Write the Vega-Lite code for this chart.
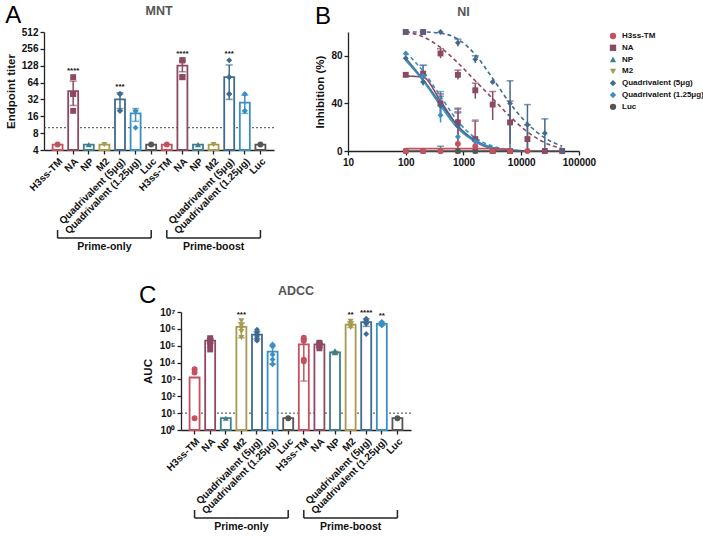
{
"$schema": "https://vega.github.io/schema/vega-lite/v6.json",
"padding": {"left": 5, "top": 3, "right": 0, "bottom": 0},
"config": {
 "font": "Liberation Sans",
 "view": {"stroke": null},
 "axis": {"labelFont": "Liberation Sans", "titleFont": "Liberation Sans", "labelFontWeight": "bold", "labelFontSize": 10, "labelColor": "#111", "titleFontSize": 11.5, "titleFontWeight": "bold", "titleColor": "#111", "domainColor": "#222", "tickColor": "#222", "domainWidth": 1.3, "tickWidth": 1.3, "tickSize": 4, "grid": false, "labelPadding": 2, "labelFlush": false},
 "title": {"font": "Liberation Sans", "fontSize": 12.5, "fontWeight": "bold", "color": "#555", "offset": 10, "anchor": "middle"},
 "legend": {"labelFont": "Liberation Sans", "labelFontWeight": "bold", "labelFontSize": 8, "labelColor": "#111", "symbolSize": 40, "rowPadding": 3.8, "padding": 0, "offset": 30, "labelOffset": 5, "labelLimit": 200}
},
"datasets": {
 "brk": [
  {"k1":"po:H3ss-TM","k2":"po:Luc","km":"po:M2","lab":"Prime-only"},
  {"k1":"pb:H3ss-TM","k2":"pb:Luc","km":"pb:M2","lab":"Prime-boost"}
 ],
 "A_bars": [
  {"k":"po:H3ss-TM","a":"H3ss-TM","m":5},
  {"k":"po:NA","a":"NA","m":45,"lo":25,"hi":68,"s":"****","sy":80},
  {"k":"po:NP","a":"NP","m":5},
  {"k":"po:M2","a":"M2","m":5},
  {"k":"po:Quadrivalent (5μg)","a":"Quadrivalent (5μg)","m":32,"lo":22,"hi":42,"s":"***","sy":42},
  {"k":"po:Quadrivalent (1.25μg)","a":"Quadrivalent (1.25μg)","m":18,"lo":13,"hi":22},
  {"k":"po:Luc","a":"Luc","m":5},
  {"k":"pb:H3ss-TM","a":"H3ss-TM","m":5},
  {"k":"pb:NA","a":"NA","m":128,"lo":100,"hi":156,"s":"****","sy":160},
  {"k":"pb:NP","a":"NP","m":5},
  {"k":"pb:M2","a":"M2","m":5},
  {"k":"pb:Quadrivalent (5μg)","a":"Quadrivalent (5μg)","m":80,"lo":32,"hi":132,"s":"***","sy":160},
  {"k":"pb:Quadrivalent (1.25μg)","a":"Quadrivalent (1.25μg)","m":28,"lo":18,"hi":38},
  {"k":"pb:Luc","a":"Luc","m":5}
 ],
 "A_pts": [
  {"k":"po:H3ss-TM","a":"H3ss-TM","v":5},
  {"k":"po:NA","a":"NA","v":80},{"k":"po:NA","a":"NA","v":40},{"k":"po:NA","a":"NA","v":40},{"k":"po:NA","a":"NA","v":20},
  {"k":"po:NP","a":"NP","v":5},
  {"k":"po:M2","a":"M2","v":5},
  {"k":"po:Quadrivalent (5μg)","a":"Quadrivalent (5μg)","v":40},{"k":"po:Quadrivalent (5μg)","a":"Quadrivalent (5μg)","v":40},{"k":"po:Quadrivalent (5μg)","a":"Quadrivalent (5μg)","v":20},{"k":"po:Quadrivalent (5μg)","a":"Quadrivalent (5μg)","v":20},
  {"k":"po:Quadrivalent (1.25μg)","a":"Quadrivalent (1.25μg)","v":20},{"k":"po:Quadrivalent (1.25μg)","a":"Quadrivalent (1.25μg)","v":20},{"k":"po:Quadrivalent (1.25μg)","a":"Quadrivalent (1.25μg)","v":10},
  {"k":"po:Luc","a":"Luc","v":5},
  {"k":"pb:H3ss-TM","a":"H3ss-TM","v":5},
  {"k":"pb:NA","a":"NA","v":160},{"k":"pb:NA","a":"NA","v":160},{"k":"pb:NA","a":"NA","v":80},{"k":"pb:NA","a":"NA","v":80},
  {"k":"pb:NP","a":"NP","v":5},
  {"k":"pb:M2","a":"M2","v":5},
  {"k":"pb:Quadrivalent (5μg)","a":"Quadrivalent (5μg)","v":160},{"k":"pb:Quadrivalent (5μg)","a":"Quadrivalent (5μg)","v":80},{"k":"pb:Quadrivalent (5μg)","a":"Quadrivalent (5μg)","v":80},{"k":"pb:Quadrivalent (5μg)","a":"Quadrivalent (5μg)","v":40},{"k":"pb:Quadrivalent (5μg)","a":"Quadrivalent (5μg)","v":40},
  {"k":"pb:Quadrivalent (1.25μg)","a":"Quadrivalent (1.25μg)","v":40},{"k":"pb:Quadrivalent (1.25μg)","a":"Quadrivalent (1.25μg)","v":20},{"k":"pb:Quadrivalent (1.25μg)","a":"Quadrivalent (1.25μg)","v":20},
  {"k":"pb:Luc","a":"Luc","v":5}
 ],
 "C_bars": [
  {"k":"po:H3ss-TM","a":"H3ss-TM","m":1300},
  {"k":"po:NA","a":"NA","m":200000,"lo":140000,"hi":260000},
  {"k":"po:NP","a":"NP","m":5},
  {"k":"po:M2","a":"M2","m":1300000,"lo":300000,"hi":2300000,"s":"***","sy":3000000},
  {"k":"po:Quadrivalent (5μg)","a":"Quadrivalent (5μg)","m":450000,"lo":250000,"hi":700000},
  {"k":"po:Quadrivalent (1.25μg)","a":"Quadrivalent (1.25μg)","m":45000,"lo":8000,"hi":100000},
  {"k":"po:Luc","a":"Luc","m":5},
  {"k":"pb:H3ss-TM","a":"H3ss-TM","m":120000,"lo":800,"hi":240000},
  {"k":"pb:NA","a":"NA","m":120000,"lo":80000,"hi":150000},
  {"k":"pb:NP","a":"NP","m":40000,"lo":35000,"hi":46000},
  {"k":"pb:M2","a":"M2","m":1800000,"lo":1200000,"hi":2600000,"s":"**","sy":2800000},
  {"k":"pb:Quadrivalent (5μg)","a":"Quadrivalent (5μg)","m":2500000,"lo":1400000,"hi":3800000,"s":"****","sy":4000000},
  {"k":"pb:Quadrivalent (1.25μg)","a":"Quadrivalent (1.25μg)","m":2000000,"lo":1600000,"hi":2400000,"s":"**","sy":2600000},
  {"k":"pb:Luc","a":"Luc","m":5}
 ],
 "C_pts": [
  {"k":"po:H3ss-TM","a":"H3ss-TM","v":4000},{"k":"po:H3ss-TM","a":"H3ss-TM","v":2600},{"k":"po:H3ss-TM","a":"H3ss-TM","v":5},
  {"k":"po:NA","a":"NA","v":280000},{"k":"po:NA","a":"NA","v":220000},{"k":"po:NA","a":"NA","v":170000},{"k":"po:NA","a":"NA","v":110000},{"k":"po:NA","a":"NA","v":60000},
  {"k":"po:NP","a":"NP","v":5},
  {"k":"po:M2","a":"M2","v":3000000},{"k":"po:M2","a":"M2","v":1600000},{"k":"po:M2","a":"M2","v":1100000},{"k":"po:M2","a":"M2","v":700000},{"k":"po:M2","a":"M2","v":300000},
  {"k":"po:Quadrivalent (5μg)","a":"Quadrivalent (5μg)","v":900000},{"k":"po:Quadrivalent (5μg)","a":"Quadrivalent (5μg)","v":650000},{"k":"po:Quadrivalent (5μg)","a":"Quadrivalent (5μg)","v":500000},{"k":"po:Quadrivalent (5μg)","a":"Quadrivalent (5μg)","v":380000},{"k":"po:Quadrivalent (5μg)","a":"Quadrivalent (5μg)","v":280000},{"k":"po:Quadrivalent (5μg)","a":"Quadrivalent (5μg)","v":200000},
  {"k":"po:Quadrivalent (1.25μg)","a":"Quadrivalent (1.25μg)","v":120000},{"k":"po:Quadrivalent (1.25μg)","a":"Quadrivalent (1.25μg)","v":90000},{"k":"po:Quadrivalent (1.25μg)","a":"Quadrivalent (1.25μg)","v":30000},{"k":"po:Quadrivalent (1.25μg)","a":"Quadrivalent (1.25μg)","v":15000},{"k":"po:Quadrivalent (1.25μg)","a":"Quadrivalent (1.25μg)","v":8000},
  {"k":"po:Luc","a":"Luc","v":5},
  {"k":"pb:H3ss-TM","a":"H3ss-TM","v":300000},{"k":"pb:H3ss-TM","a":"H3ss-TM","v":200000},{"k":"pb:H3ss-TM","a":"H3ss-TM","v":15000},{"k":"pb:H3ss-TM","a":"H3ss-TM","v":12000},
  {"k":"pb:NA","a":"NA","v":150000},{"k":"pb:NA","a":"NA","v":130000},{"k":"pb:NA","a":"NA","v":100000},{"k":"pb:NA","a":"NA","v":70000},
  {"k":"pb:NP","a":"NP","v":50000},{"k":"pb:NP","a":"NP","v":43000},{"k":"pb:NP","a":"NP","v":38000},
  {"k":"pb:M2","a":"M2","v":2800000},{"k":"pb:M2","a":"M2","v":2000000},{"k":"pb:M2","a":"M2","v":1500000},{"k":"pb:M2","a":"M2","v":1200000},
  {"k":"pb:Quadrivalent (5μg)","a":"Quadrivalent (5μg)","v":4000000},{"k":"pb:Quadrivalent (5μg)","a":"Quadrivalent (5μg)","v":3000000},{"k":"pb:Quadrivalent (5μg)","a":"Quadrivalent (5μg)","v":2400000},{"k":"pb:Quadrivalent (5μg)","a":"Quadrivalent (5μg)","v":2000000},{"k":"pb:Quadrivalent (5μg)","a":"Quadrivalent (5μg)","v":500000},
  {"k":"pb:Quadrivalent (1.25μg)","a":"Quadrivalent (1.25μg)","v":2600000},{"k":"pb:Quadrivalent (1.25μg)","a":"Quadrivalent (1.25μg)","v":2200000},{"k":"pb:Quadrivalent (1.25μg)","a":"Quadrivalent (1.25μg)","v":1800000},{"k":"pb:Quadrivalent (1.25μg)","a":"Quadrivalent (1.25μg)","v":1600000},
  {"k":"pb:Luc","a":"Luc","v":5}
 ],
 "B_pts": [
  {"s":"NA","d":100,"v":100},{"s":"NA","d":200,"v":100},{"s":"NA","d":400,"v":82,"lo":78,"hi":86},{"s":"NA","d":800,"v":64,"lo":60,"hi":68},{"s":"NA","d":1600,"v":51,"lo":44,"hi":57},{"s":"NA","d":3200,"v":39,"lo":26,"hi":50},{"s":"NA","d":6400,"v":24,"lo":6,"hi":42},{"s":"NA","d":12800,"v":10,"lo":0,"hi":22},{"s":"NA","d":25600,"v":0},{"s":"NA","d":51200,"v":0},
  {"s":"NA","d":100,"v":64},{"s":"NA","d":200,"v":65,"lo":58,"hi":72},{"s":"NA","d":400,"v":40,"lo":30,"hi":48},{"s":"NA","d":800,"v":24,"lo":14,"hi":36},{"s":"NA","d":1600,"v":10},{"s":"NA","d":3200,"v":0},{"s":"NA","d":6400,"v":0},
  {"s":"Quadrivalent (5μg)","d":100,"v":100},{"s":"Quadrivalent (5μg)","d":200,"v":100},{"s":"Quadrivalent (5μg)","d":400,"v":100},{"s":"Quadrivalent (5μg)","d":800,"v":91,"lo":88,"hi":94},{"s":"Quadrivalent (5μg)","d":1600,"v":77,"lo":74,"hi":80},{"s":"Quadrivalent (5μg)","d":3200,"v":58},{"s":"Quadrivalent (5μg)","d":6400,"v":40,"lo":0,"hi":59},{"s":"Quadrivalent (5μg)","d":12800,"v":22,"lo":0,"hi":39},{"s":"Quadrivalent (5μg)","d":25600,"v":15,"lo":0,"hi":27},{"s":"Quadrivalent (5μg)","d":51200,"v":0},
  {"s":"Quadrivalent (5μg)","d":100,"v":78},{"s":"Quadrivalent (5μg)","d":200,"v":58},{"s":"Quadrivalent (5μg)","d":400,"v":38,"lo":30,"hi":46},{"s":"Quadrivalent (5μg)","d":800,"v":21,"lo":10,"hi":32},{"s":"Quadrivalent (5μg)","d":1600,"v":9},{"s":"Quadrivalent (5μg)","d":3200,"v":0},
  {"s":"Quadrivalent (1.25μg)","d":100,"v":82},{"s":"Quadrivalent (1.25μg)","d":200,"v":63,"lo":55,"hi":72},{"s":"Quadrivalent (1.25μg)","d":400,"v":30,"lo":24,"hi":50},{"s":"Quadrivalent (1.25μg)","d":800,"v":12,"lo":3,"hi":35},{"s":"Quadrivalent (1.25μg)","d":1600,"v":8,"lo":0,"hi":25},{"s":"Quadrivalent (1.25μg)","d":3200,"v":0},{"s":"Quadrivalent (1.25μg)","d":6400,"v":0},
  {"s":"NP","d":100,"v":0},{"s":"NP","d":200,"v":0},{"s":"NP","d":400,"v":1,"lo":0,"hi":4},{"s":"NP","d":800,"v":0},{"s":"NP","d":1600,"v":0},{"s":"NP","d":3200,"v":0},{"s":"NP","d":6400,"v":0},
  {"s":"M2","d":100,"v":0},{"s":"M2","d":200,"v":0},{"s":"M2","d":400,"v":0},{"s":"M2","d":800,"v":0},{"s":"M2","d":1600,"v":0},{"s":"M2","d":3200,"v":0},{"s":"M2","d":6400,"v":0},
  {"s":"Luc","d":100,"v":0},{"s":"Luc","d":200,"v":0},{"s":"Luc","d":400,"v":0},{"s":"Luc","d":800,"v":0},{"s":"Luc","d":1600,"v":0},{"s":"Luc","d":3200,"v":0},{"s":"Luc","d":6400,"v":0},
  {"s":"H3ss-TM","d":100,"v":0},{"s":"H3ss-TM","d":200,"v":0},{"s":"H3ss-TM","d":400,"v":0},{"s":"H3ss-TM","d":800,"v":6,"lo":0,"hi":33},{"s":"H3ss-TM","d":1600,"v":4,"lo":0,"hi":26},{"s":"H3ss-TM","d":3200,"v":0},{"s":"H3ss-TM","d":6400,"v":0},{"s":"H3ss-TM","d":12800,"v":0}
 ],
 "B_fit": [
  {"s":"NA","g":"pb","d":100,"v":100},{"s":"NA","g":"pb","d":200,"v":96},{"s":"NA","g":"pb","d":400,"v":87},{"s":"NA","g":"pb","d":800,"v":74},{"s":"NA","g":"pb","d":1600,"v":59},{"s":"NA","g":"pb","d":3200,"v":44},{"s":"NA","g":"pb","d":6400,"v":29},{"s":"NA","g":"pb","d":12800,"v":16},{"s":"NA","g":"pb","d":25600,"v":7},{"s":"NA","g":"pb","d":51200,"v":2},
  {"s":"Quadrivalent (5μg)","g":"pb","d":100,"v":100},{"s":"Quadrivalent (5μg)","g":"pb","d":200,"v":100},{"s":"Quadrivalent (5μg)","g":"pb","d":400,"v":99},{"s":"Quadrivalent (5μg)","g":"pb","d":800,"v":94},{"s":"Quadrivalent (5μg)","g":"pb","d":1600,"v":81},{"s":"Quadrivalent (5μg)","g":"pb","d":3200,"v":61},{"s":"Quadrivalent (5μg)","g":"pb","d":6400,"v":40},{"s":"Quadrivalent (5μg)","g":"pb","d":12800,"v":23},{"s":"Quadrivalent (5μg)","g":"pb","d":25600,"v":11},{"s":"Quadrivalent (5μg)","g":"pb","d":51200,"v":4},
  {"s":"Quadrivalent (1.25μg)","g":"pb","d":100,"v":83},{"s":"Quadrivalent (1.25μg)","g":"pb","d":200,"v":67},{"s":"Quadrivalent (1.25μg)","g":"pb","d":400,"v":46},{"s":"Quadrivalent (1.25μg)","g":"pb","d":800,"v":25},{"s":"Quadrivalent (1.25μg)","g":"pb","d":1600,"v":11},{"s":"Quadrivalent (1.25μg)","g":"pb","d":3200,"v":4},{"s":"Quadrivalent (1.25μg)","g":"pb","d":6400,"v":1},{"s":"Quadrivalent (1.25μg)","g":"pb","d":12800,"v":0},
  {"s":"NA","g":"po","d":100,"v":63},{"s":"NA","g":"po","d":200,"v":62},{"s":"NA","g":"po","d":400,"v":42},{"s":"NA","g":"po","d":800,"v":21},{"s":"NA","g":"po","d":1600,"v":8},{"s":"NA","g":"po","d":3200,"v":2},{"s":"NA","g":"po","d":6400,"v":0.5},{"s":"NA","g":"po","d":12800,"v":0},
  {"s":"Quadrivalent (5μg)","g":"po","d":100,"v":78},{"s":"Quadrivalent (5μg)","g":"po","d":200,"v":60},{"s":"Quadrivalent (5μg)","g":"po","d":400,"v":40},{"s":"Quadrivalent (5μg)","g":"po","d":800,"v":21},{"s":"Quadrivalent (5μg)","g":"po","d":1600,"v":9},{"s":"Quadrivalent (5μg)","g":"po","d":3200,"v":3},{"s":"Quadrivalent (5μg)","g":"po","d":6400,"v":1},{"s":"Quadrivalent (5μg)","g":"po","d":12800,"v":0},
  {"s":"Quadrivalent (1.25μg)","g":"po","d":100,"v":76},{"s":"Quadrivalent (1.25μg)","g":"po","d":200,"v":59},{"s":"Quadrivalent (1.25μg)","g":"po","d":400,"v":38},{"s":"Quadrivalent (1.25μg)","g":"po","d":800,"v":19},{"s":"Quadrivalent (1.25μg)","g":"po","d":1600,"v":8},{"s":"Quadrivalent (1.25μg)","g":"po","d":3200,"v":2.5},{"s":"Quadrivalent (1.25μg)","g":"po","d":6400,"v":0.7},{"s":"Quadrivalent (1.25μg)","g":"po","d":12800,"v":0},
  {"s":"H3ss-TM","g":"po","d":100,"v":2},{"s":"H3ss-TM","g":"po","d":400,"v":2},{"s":"H3ss-TM","g":"po","d":1600,"v":2},{"s":"H3ss-TM","g":"po","d":6400,"v":1.5},
  {"s":"Luc","g":"po","d":100,"v":0},{"s":"Luc","g":"po","d":51200,"v":0}
 ]
},
"vconcat": [
 {"hconcat": [
  {"title": {"text": "A", "anchor": "start", "frame": "bounds", "fontSize": 24, "fontWeight": "normal", "color": "#000", "offset": 0, "dy": 23},
   "bounds": "flush", "spacing": 80,
   "resolve": {"scale": {"color": "independent", "shape": "independent", "stroke": "independent"}},
   "vconcat": [
   {"title": {"text": "MNT", "anchor": "middle", "frame": "group"}, "width": 230, "height": 118,
    "layer": [
      {"data": {"values": [{"t": 10}]}, "mark": {"type": "rule", "strokeDash": [2, 2], "color": "#444", "strokeWidth": 1}, "encoding": {"y": {"field": "t", "type": "quantitative"}}},
      {"data": {"name": "A_bars"}, "mark": {"type": "bar", "fill": "white", "strokeWidth": 1.8},
       "encoding": {
        "x": {"field": "k", "type": "nominal", "sort": null, "scale": {"domain": ["po:H3ss-TM","po:NA","po:NP","po:M2","po:Quadrivalent (5μg)","po:Quadrivalent (1.25μg)","po:Luc","pb:H3ss-TM","pb:NA","pb:NP","pb:M2","pb:Quadrivalent (5μg)","pb:Quadrivalent (1.25μg)","pb:Luc"], "paddingInner": 0.36, "paddingOuter": 0.55}, "axis": {"labelAngle": -45, "labelExpr": "split(datum.label, ':')[1]", "title": null}},
        "y": {"field": "m", "type": "quantitative", "scale": {"type": "log", "base": 2, "domain": [4, 512]}, "axis": {"values": [4, 8, 16, 32, 64, 128, 256, 512], "format": "d", "title": "Endpoint titer", "titlePadding": 5}},
        "y2": {"datum": 4},
        "stroke": {"field": "a", "type": "nominal", "scale": {"domain": ["H3ss-TM","NA","NP","M2","Quadrivalent (5μg)","Quadrivalent (1.25μg)","Luc"], "range": ["#c4515f","#8c4962","#3e7f89","#a59a50","#3f6b8f","#3b8fc2","#555555"]}, "legend": null}}},
      {"data": {"name": "A_pts"}, "mark": {"type": "point", "filled": true, "size": 35, "opacity": 1},
       "encoding": {
        "x": {"field": "k", "type": "nominal", "sort": null},
        "y": {"field": "v", "type": "quantitative"},
        "color": {"field": "a", "type": "nominal", "scale": {"domain": ["H3ss-TM","NA","NP","M2","Quadrivalent (5μg)","Quadrivalent (1.25μg)","Luc"], "range": ["#c4515f","#8c4962","#3e7f89","#a59a50","#3f6b8f","#3b8fc2","#555555"]}, "legend": null},
        "shape": {"field": "a", "type": "nominal", "scale": {"domain": ["H3ss-TM","NA","NP","M2","Quadrivalent (5μg)","Quadrivalent (1.25μg)","Luc"], "range": ["circle","square","triangle-up","triangle-down","diamond","diamond","circle"]}, "legend": null}}},
      {"data": {"name": "A_bars"}, "transform": [{"filter": "isValid(datum.lo)"}], "mark": {"type": "rule", "strokeWidth": 1.5},
       "encoding": {"x": {"field": "k", "type": "nominal", "sort": null}, "y": {"field": "lo", "type": "quantitative"}, "y2": {"field": "hi"}, "color": {"field": "a", "type": "nominal", "legend": null}}},
      {"data": {"name": "A_bars"}, "transform": [{"filter": "isValid(datum.hi)"}], "mark": {"type": "tick", "size": 7, "thickness": 1.5},
       "encoding": {"x": {"field": "k", "type": "nominal", "sort": null}, "y": {"field": "hi", "type": "quantitative"}, "color": {"field": "a", "type": "nominal", "legend": null}}},
      {"data": {"name": "A_bars"}, "transform": [{"filter": "isValid(datum.lo)"}], "mark": {"type": "tick", "size": 7, "thickness": 1.5},
       "encoding": {"x": {"field": "k", "type": "nominal", "sort": null}, "y": {"field": "lo", "type": "quantitative"}, "color": {"field": "a", "type": "nominal", "legend": null}}},
      {"data": {"name": "A_bars"}, "transform": [{"filter": "datum.s"}], "mark": {"type": "text", "baseline": "bottom", "dy": -2, "fontSize": 8, "fontWeight": "bold", "color": "#111"},
       "encoding": {"x": {"field": "k", "type": "nominal", "sort": null}, "y": {"field": "sy", "type": "quantitative"}, "text": {"field": "s"}}}
    ]},
   {"width": 230, "height": 8, "data": {"name": "brk"},
    "layer": [
     {"mark": {"type": "rule", "color": "#222", "strokeWidth": 1.5},
      "encoding": {"x": {"field": "k1", "type": "nominal", "scale": {"domain": ["po:H3ss-TM","po:NA","po:NP","po:M2","po:Quadrivalent (5μg)","po:Quadrivalent (1.25μg)","po:Luc","pb:H3ss-TM","pb:NA","pb:NP","pb:M2","pb:Quadrivalent (5μg)","pb:Quadrivalent (1.25μg)","pb:Luc"], "paddingInner": 0.36, "paddingOuter": 0.55}, "axis": null}, "x2": {"field": "k2"}, "y": {"datum": 0, "type": "quantitative", "scale": {"domain": [0, 1]}, "axis": null}}},
     {"mark": {"type": "rule", "color": "#222", "strokeWidth": 1.5},
      "encoding": {"x": {"field": "k1", "type": "nominal"}, "y": {"datum": 0, "type": "quantitative"}, "y2": {"datum": 1}}},
     {"mark": {"type": "rule", "color": "#222", "strokeWidth": 1.5},
      "encoding": {"x": {"field": "k2", "type": "nominal"}, "y": {"datum": 0, "type": "quantitative"}, "y2": {"datum": 1}}},
     {"mark": {"type": "text", "baseline": "top", "dy": 4, "fontSize": 10.5, "fontWeight": "bold", "color": "#111"},
      "encoding": {"x": {"field": "km", "type": "nominal"}, "y": {"datum": 0, "type": "quantitative"}, "text": {"field": "lab"}}}
    ]}
  ]},
  {"title": {"text": "B", "anchor": "start", "frame": "bounds", "fontSize": 24, "fontWeight": "normal", "color": "#000", "offset": 0, "dy": 23},
   "resolve": {"scale": {"color": "independent", "shape": "independent", "stroke": "independent", "fill": "independent"}},
   "vconcat": [
   {"title": {"text": "NI", "anchor": "middle", "frame": "group"}, "width": 231, "height": 119,
    "layer": [
     {"data": {"name": "B_fit"}, "mark": {"type": "line", "interpolate": "monotone", "strokeWidth": 1.6},
      "encoding": {
       "x": {"field": "d", "type": "quantitative", "scale": {"type": "log", "domain": [10, 100000]}, "axis": {"values": [10, 100, 1000, 10000, 100000], "format": "d", "title": null, "labelFlush": false}},
       "y": {"field": "v", "type": "quantitative", "scale": {"domain": [0, 100]}, "axis": {"values": [0, 20, 40, 60, 80, 100], "title": "Inhibition (%)", "titlePadding": 5, "labelFlush": false}},
       "stroke": {"field": "s", "type": "nominal", "scale": {"domain": ["Luc","Quadrivalent (1.25μg)","Quadrivalent (5μg)","M2","NP","NA","H3ss-TM"], "range": ["#555555","#3b8fc2","#3f6b8f","#a59a50","#3e7f89","#8c4962","#c4515f"]}, "legend": null},
       "strokeDash": {"field": "g", "type": "nominal", "scale": {"domain": ["po", "pb"], "range": [[1, 0], [4, 3]]}, "legend": null}}},
     {"data": {"name": "B_pts"}, "transform": [{"filter": "isValid(datum.lo)"}], "mark": {"type": "rule", "strokeWidth": 1.5},
      "encoding": {"x": {"field": "d", "type": "quantitative"}, "y": {"field": "lo", "type": "quantitative"}, "y2": {"field": "hi"}, "stroke": {"field": "s", "type": "nominal", "legend": null}}},
     {"data": {"name": "B_pts"}, "transform": [{"filter": "isValid(datum.hi)"}], "mark": {"type": "tick", "size": 7, "thickness": 1.5, "orient": "horizontal"},
      "encoding": {"x": {"field": "d", "type": "quantitative"}, "y": {"field": "hi", "type": "quantitative"}, "fill": {"field": "s", "type": "nominal", "scale": {"domain": ["Luc","Quadrivalent (1.25μg)","Quadrivalent (5μg)","M2","NP","NA","H3ss-TM"], "range": ["#555555","#3b8fc2","#3f6b8f","#a59a50","#3e7f89","#8c4962","#c4515f"]}, "legend": null}}},
     {"data": {"name": "B_pts"}, "mark": {"type": "point", "filled": true, "size": 35, "opacity": 1},
      "encoding": {
       "x": {"field": "d", "type": "quantitative"},
       "y": {"field": "v", "type": "quantitative"},
       "color": {"field": "s", "type": "nominal", "scale": {"domain": ["H3ss-TM","NA","NP","M2","Quadrivalent (5μg)","Quadrivalent (1.25μg)","Luc"], "range": ["#c4515f","#8c4962","#3e7f89","#a59a50","#3f6b8f","#3b8fc2","#555555"]}, "legend": {"title": null, "orient": "right", "offset": 30}},
       "shape": {"field": "s", "type": "nominal", "scale": {"domain": ["H3ss-TM","NA","NP","M2","Quadrivalent (5μg)","Quadrivalent (1.25μg)","Luc"], "range": ["circle","square","triangle-up","triangle-down","diamond","diamond","circle"]}, "legend": {"title": null, "orient": "right", "offset": 30}}}}
    ]}
  ]}
 ], "spacing": 39, "resolve": {"scale": {"color": "independent", "shape": "independent", "stroke": "independent", "strokeDash": "independent", "fill": "independent"}}},
 {"hconcat": [
  {"width": 94, "height": 10, "data": {"values": [{"z": 0}]}, "mark": {"type": "point", "opacity": 0}},
  {"title": {"text": "C", "anchor": "start", "frame": "bounds", "fontSize": 24, "fontWeight": "normal", "color": "#000", "offset": 0, "dy": 23, "dx": -4},
   "bounds": "flush", "spacing": 80,
   "resolve": {"scale": {"color": "independent", "shape": "independent", "stroke": "independent"}},
   "vconcat": [
   {"title": {"text": "ADCC", "anchor": "middle", "frame": "group"}, "width": 230, "height": 118,
    "layer": [
      {"data": {"values": [{"t": 10}]}, "mark": {"type": "rule", "strokeDash": [2, 2], "color": "#444", "strokeWidth": 1}, "encoding": {"y": {"field": "t", "type": "quantitative"}}},
      {"data": {"name": "C_bars"}, "mark": {"type": "bar", "fill": "white", "strokeWidth": 1.8},
       "encoding": {
        "x": {"field": "k", "type": "nominal", "sort": null, "scale": {"domain": ["po:H3ss-TM","po:NA","po:NP","po:M2","po:Quadrivalent (5μg)","po:Quadrivalent (1.25μg)","po:Luc","pb:H3ss-TM","pb:NA","pb:NP","pb:M2","pb:Quadrivalent (5μg)","pb:Quadrivalent (1.25μg)","pb:Luc"], "paddingInner": 0.36, "paddingOuter": 0.55}, "axis": {"labelAngle": -45, "labelExpr": "split(datum.label, ':')[1]", "title": null}},
        "y": {"field": "m", "type": "quantitative", "scale": {"type": "log", "domain": [1, 10000000]}, "axis": {"values": [1, 10, 100, 1000, 10000, 100000, 1000000, 10000000], "labelExpr": "'10' + ['⁰','¹','²','³','⁴','⁵','⁶','⁷'][round(log(datum.value)/LN10)]", "title": "AUC", "titlePadding": 5}},
        "y2": {"datum": 1},
        "stroke": {"field": "a", "type": "nominal", "scale": {"domain": ["H3ss-TM","NA","NP","M2","Quadrivalent (5μg)","Quadrivalent (1.25μg)","Luc"], "range": ["#c4515f","#8c4962","#3e7f89","#a59a50","#3f6b8f","#3b8fc2","#555555"]}, "legend": null}}},
      {"data": {"name": "C_pts"}, "mark": {"type": "point", "filled": true, "size": 35, "opacity": 1},
       "encoding": {
        "x": {"field": "k", "type": "nominal", "sort": null},
        "y": {"field": "v", "type": "quantitative"},
        "color": {"field": "a", "type": "nominal", "scale": {"domain": ["H3ss-TM","NA","NP","M2","Quadrivalent (5μg)","Quadrivalent (1.25μg)","Luc"], "range": ["#c4515f","#8c4962","#3e7f89","#a59a50","#3f6b8f","#3b8fc2","#555555"]}, "legend": null},
        "shape": {"field": "a", "type": "nominal", "scale": {"domain": ["H3ss-TM","NA","NP","M2","Quadrivalent (5μg)","Quadrivalent (1.25μg)","Luc"], "range": ["circle","square","triangle-up","triangle-down","diamond","diamond","circle"]}, "legend": null}}},
      {"data": {"name": "C_bars"}, "transform": [{"filter": "isValid(datum.lo)"}], "mark": {"type": "rule", "strokeWidth": 1.5},
       "encoding": {"x": {"field": "k", "type": "nominal", "sort": null}, "y": {"field": "lo", "type": "quantitative"}, "y2": {"field": "hi"}, "color": {"field": "a", "type": "nominal", "legend": null}}},
      {"data": {"name": "C_bars"}, "transform": [{"filter": "isValid(datum.hi)"}], "mark": {"type": "tick", "size": 7, "thickness": 1.5},
       "encoding": {"x": {"field": "k", "type": "nominal", "sort": null}, "y": {"field": "hi", "type": "quantitative"}, "color": {"field": "a", "type": "nominal", "legend": null}}},
      {"data": {"name": "C_bars"}, "transform": [{"filter": "isValid(datum.lo)"}], "mark": {"type": "tick", "size": 7, "thickness": 1.5},
       "encoding": {"x": {"field": "k", "type": "nominal", "sort": null}, "y": {"field": "lo", "type": "quantitative"}, "color": {"field": "a", "type": "nominal", "legend": null}}},
      {"data": {"name": "C_bars"}, "transform": [{"filter": "datum.s"}], "mark": {"type": "text", "baseline": "bottom", "dy": -2, "fontSize": 8, "fontWeight": "bold", "color": "#111"},
       "encoding": {"x": {"field": "k", "type": "nominal", "sort": null}, "y": {"field": "sy", "type": "quantitative"}, "text": {"field": "s"}}}
    ]},
   {"width": 230, "height": 8, "data": {"name": "brk"},
    "layer": [
     {"mark": {"type": "rule", "color": "#222", "strokeWidth": 1.5},
      "encoding": {"x": {"field": "k1", "type": "nominal", "scale": {"domain": ["po:H3ss-TM","po:NA","po:NP","po:M2","po:Quadrivalent (5μg)","po:Quadrivalent (1.25μg)","po:Luc","pb:H3ss-TM","pb:NA","pb:NP","pb:M2","pb:Quadrivalent (5μg)","pb:Quadrivalent (1.25μg)","pb:Luc"], "paddingInner": 0.36, "paddingOuter": 0.55}, "axis": null}, "x2": {"field": "k2"}, "y": {"datum": 0, "type": "quantitative", "scale": {"domain": [0, 1]}, "axis": null}}},
     {"mark": {"type": "rule", "color": "#222", "strokeWidth": 1.5},
      "encoding": {"x": {"field": "k1", "type": "nominal"}, "y": {"datum": 0, "type": "quantitative"}, "y2": {"datum": 1}}},
     {"mark": {"type": "rule", "color": "#222", "strokeWidth": 1.5},
      "encoding": {"x": {"field": "k2", "type": "nominal"}, "y": {"datum": 0, "type": "quantitative"}, "y2": {"datum": 1}}},
     {"mark": {"type": "text", "baseline": "top", "dy": 4, "fontSize": 10.5, "fontWeight": "bold", "color": "#111"},
      "encoding": {"x": {"field": "km", "type": "nominal"}, "y": {"datum": 0, "type": "quantitative"}, "text": {"field": "lab"}}}
    ]}
  ]}
 ], "spacing": 0, "resolve": {"scale": {"color": "independent", "shape": "independent", "stroke": "independent", "strokeDash": "independent"}}}
],
"spacing": 30,
"resolve": {"scale": {"color": "independent", "shape": "independent", "stroke": "independent", "strokeDash": "independent", "fill": "independent"}}
}
